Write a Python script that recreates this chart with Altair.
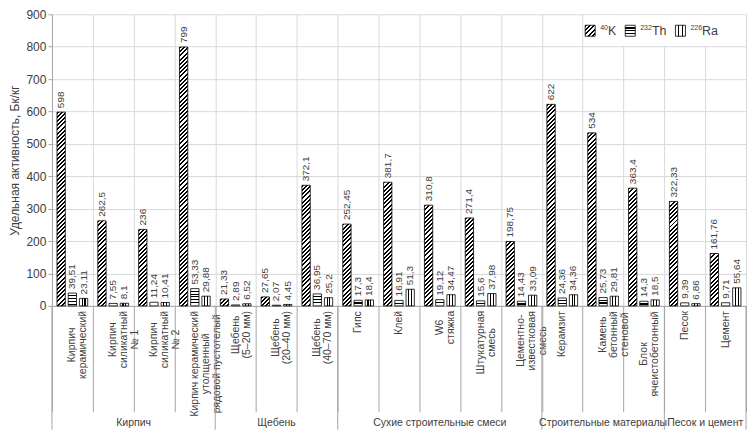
import altair as alt

# ---------------- data ----------------
categories = [
    "Кирпич керамический",
    "Кирпич силикатный № 1",
    "Кирпич силикатный № 2",
    "Кирпич керамический утолщенный рядовой пустотелый",
    "Щебень (5–20 мм)",
    "Щебень (20–40 мм)",
    "Щебень (40–70 мм)",
    "Гипс",
    "Клей",
    "W6 стяжка",
    "Штукатурная смесь",
    "Цементно-известковая смесь",
    "Керамзит",
    "Камень бетонный стеновой",
    "Блок ячеистобетонный",
    "Песок",
    "Цемент",
]
category_lines = [
    "Кирпич\nкерамический",
    "Кирпич\nсиликатный\n№ 1",
    "Кирпич\nсиликатный\n№ 2",
    "Кирпич керамический\nутолщенный\nрядовой пустотелый",
    "Щебень\n(5–20 мм)",
    "Щебень\n(20–40 мм)",
    "Щебень\n(40–70 мм)",
    "Гипс",
    "Клей",
    "W6\nстяжка",
    "Штукатурная\nсмесь",
    "Цементно-\nизвестковая\nсмесь",
    "Керамзит",
    "Камень\nбетонный\nстеновой",
    "Блок\nячеистобетонный",
    "Песок",
    "Цемент",
]
groups = ["Кирпич", "Щебень", "Сухие строительные смеси", "Строительные материалы", "Песок и цемент"]
group_sizes = [4, 3, 5, 3, 2]
series = ["K", "Th", "Ra"]
k40 = [598, 262.5, 236, 799, 21.33, 27.65, 372.1, 252.45, 381.7, 310.8, 271.4, 198.75, 622, 534, 363.4, 322.33, 161.76]
th232 = [39.51, 7.55, 11.24, 53.33, 2.89, 2.07, 36.95, 17.3, 16.91, 19.12, 15.6, 14.43, 24.36, 25.73, 14.3, 9.39, 9.71]
ra226 = [23.11, 8.1, 10.41, 29.88, 6.52, 4.45, 25.2, 18.4, 51.3, 34.47, 37.98, 33.09, 34.36, 29.81, 18.5, 6.86, 55.64]
legend_sup = ["40", "232", "226"]
legend_sym = ["K", "Th", "Ra"]
y_title = "Удельная активность, Бк/кг"
y_ticks = [0, 100, 200, 300, 400, 500, 600, 700, 800, 900]

# ---------------- layout / style ----------------
W, H = 695, 292
YMAX = 900
TICK_LEN = 106
GROUP_MID = 117
GROUP_LEN = 124
STEP = W / len(categories)
PAD_IN, PAD_OUT = 0.26, 0.45
SUB_STEP = STEP / (len(series) - PAD_IN + 2 * PAD_OUT)
BAR_W = SUB_STEP * (1 - PAD_IN)

FONT = "Liberation Sans"
INK = "#000000"
PAPER = "#ffffff"
TXT = "#404040"
GRID = "#d9d9d9"
AXC = "#a6a6a6"
CAT_FS = 10.5
LEG_FS = 12.5
SUP_FS = 7

ARIAL = {
    "а": 556, "б": 573, "в": 531, "г": 365, "д": 583, "е": 556, "ж": 669, "з": 458, "и": 559,
    "й": 559, "к": 438, "л": 583, "м": 688, "н": 552, "о": 556, "п": 542, "р": 556, "с": 500,
    "т": 458, "у": 500, "ф": 823, "х": 500, "ц": 573, "ч": 521, "ш": 802, "щ": 823, "ъ": 625,
    "ы": 719, "ь": 521, "э": 510, "ю": 750, "я": 542,
    "К": 583, "Щ": 938, "Г": 542, "W": 944, "Ш": 917, "Ц": 740, "Б": 656, "П": 719, "С": 722,
    " ": 278, "(": 333, ")": 333, "–": 556, "-": 333, "№": 1073, ",": 278,
    "K": 667, "T": 611, "h": 556, "R": 722, "a": 556,
}


def text_width(s, size):
    return sum(ARIAL.get(ch, 556) for ch in s) * size / 1000


def band_stops(length, spacing, thick, start, end=None):
    if end is None:
        end = length + thick
    out = [{"offset": 0, "color": PAPER}]
    pos = start
    while pos < end and pos - thick / 2 < length:
        a = round(max(pos - thick / 2, 0) / length, 4)
        b = round(min(pos + thick / 2, length) / length, 4)
        out += [
            {"offset": a, "color": PAPER},
            {"offset": a, "color": INK},
            {"offset": b, "color": INK},
            {"offset": b, "color": PAPER},
        ]
        pos += spacing
    out.append({"offset": 1, "color": PAPER})
    return out


def pattern(kind, w, h):
    if kind == "K":  # diagonal hatch "////"
        k = (w + h) / (w * w + h * h)
        return {"gradient": "linear", "x1": 0, "y1": 0, "x2": round(k * w, 6), "y2": round(k * h, 6),
                "stops": band_stops(w + h, 4.2, 2.0, 1.0)}
    if kind == "Th":  # horizontal lines
        return {"gradient": "linear", "x1": 0, "y1": 0, "x2": 0, "y2": 1,
                "stops": band_stops(h, 2.75, 1.1, 2.75, h - 1.0)}
    # vertical lines
    return {"gradient": "linear", "x1": 0, "y1": 0, "x2": 1, "y2": 0,
            "stops": band_stops(w, w / 3, 1.1, w / 3, w - 1.0)}


# ---------------- tables ----------------
rows = []
for i, cat in enumerate(categories):
    for s, vals in zip(series, (k40, th232, ra226)):
        v = vals[i]
        rows.append({"cat": cat, "s": s, "v": v, "grad": pattern(s, BAR_W, v / YMAX * H)})
bar_data = alt.Data(values=rows)

cat_rows = []
for cat, lines in zip(categories, category_lines):
    longest = max(text_width(l, CAT_FS) for l in lines.split("\n"))
    cat_rows.append({"cat": cat, "lines": lines, "ly": -(5 + longest / 2) / H * YMAX})

gstart_rows, glab_mid, glab_edge = [], [], []
start = 0
for g, n in zip(groups, group_sizes):
    gstart_rows.append({"cat": categories[start]})
    if n % 2:
        glab_mid.append({"cat": categories[start + n // 2], "g": g})
    else:
        glab_edge.append({"cat": categories[start + n // 2], "g": g})
    start += n

# ---------------- encodings ----------------
xaxis = alt.Axis(labels=False, ticks=True, tickSize=TICK_LEN, tickBand="extent", tickColor=AXC,
                 tickWidth=1, domainColor=AXC, grid=True, gridColor=GRID)
yaxis = alt.Axis(values=y_ticks, tickSize=4, tickColor=AXC, domainColor=AXC, grid=True, gridColor=GRID,
                 labelFontSize=12, labelColor=TXT, labelPadding=2, titleFontSize=12, titleColor=TXT,
                 titleFontWeight="normal", titlePadding=4)
xscale = alt.Scale(domain=categories, paddingInner=0, paddingOuter=0)
yscale = alt.Scale(domain=[0, YMAX], nice=False)


def X(bp=None):
    kw = {} if bp is None else {"bandPosition": bp}
    return alt.X("cat:N", scale=xscale, axis=xaxis, title=None, **kw)


def Y(field):
    return alt.Y(field, scale=yscale, axis=yaxis, title=y_title, stack=None)


XO = alt.XOffset("s:N", scale=alt.Scale(domain=series, paddingInner=PAD_IN, paddingOuter=PAD_OUT))

bars = alt.Chart(bar_data).mark_bar(stroke=INK, strokeWidth=0.8).encode(
    x=X(), xOffset=XO, y=Y("v:Q"), fill=alt.Fill("grad:N", scale=None, legend=None)
)

value_labels = alt.Chart(bar_data).transform_calculate(
    lbl="replace(toString(datum.v), '.', ',')"
).mark_text(angle=270, align="left", baseline="middle", dx=4, fontSize=10, color=TXT).encode(
    x=X(), xOffset=XO, y=Y("v:Q"), text="lbl:N"
)

cat_labels = alt.Chart(alt.Data(values=cat_rows)).mark_text(
    angle=270, align="center", baseline="middle", lineBreak="\n", lineHeight=11, fontSize=CAT_FS, color=TXT
).encode(x=X(), y=Y("ly:Q"), text="lines:N")

group_rules_start = alt.Chart(alt.Data(values=gstart_rows)).mark_rule(color=AXC, strokeWidth=1).encode(
    x=X(0), y=alt.value(H), y2=alt.value(H + GROUP_LEN)
)
group_rules_end = alt.Chart(alt.Data(values=[{"cat": categories[-1]}])).mark_rule(color=AXC, strokeWidth=1).encode(
    x=X(1), y=alt.value(H), y2=alt.value(H + GROUP_LEN)
)
group_text_mid = alt.Chart(alt.Data(values=glab_mid)).mark_text(
    align="center", baseline="middle", fontSize=10.5, color=TXT
).encode(x=X(0.5), y=alt.value(H + GROUP_MID), text="g:N")
group_text_edge = alt.Chart(alt.Data(values=glab_edge)).mark_text(
    align="center", baseline="middle", fontSize=10.5, color=TXT
).encode(x=X(0), y=alt.value(H + GROUP_MID), text="g:N")

# ---------------- legend ----------------
legend_layers = [
    alt.Chart(alt.Data(values=[{"a": 1}])).mark_rect(fill=PAPER).encode(
        x=alt.value(W - 160), x2=alt.value(W - 1), y=alt.value(1), y2=alt.value(H / 9 - 1)
    )
]
cursor = W - 28
for i in reversed(range(len(series))):
    main_x = cursor - text_width(legend_sym[i], LEG_FS)
    sup_x = main_x - text_width(legend_sup[i], SUP_FS)
    box_x = sup_x - 5 - 10
    cursor = box_x - 9
    legend_layers.append(
        alt.Chart(alt.Data(values=[{"a": 1}])).mark_rect(
            fill=pattern(series[i], 10, 11), stroke=INK, strokeWidth=0.8
        ).encode(x=alt.value(box_x), x2=alt.value(box_x + 10), y=alt.value(11), y2=alt.value(22))
    )
    legend_layers.append(
        alt.Chart(alt.Data(values=[{"t": legend_sup[i]}])).mark_text(
            align="left", baseline="middle", fontSize=SUP_FS, color=TXT
        ).encode(x=alt.value(sup_x), y=alt.value(13.5), text="t:N")
    )
    legend_layers.append(
        alt.Chart(alt.Data(values=[{"t": legend_sym[i]}])).mark_text(
            align="left", baseline="middle", fontSize=LEG_FS, color=TXT
        ).encode(x=alt.value(main_x), y=alt.value(17), text="t:N")
    )

chart = alt.layer(
    bars, value_labels, cat_labels, group_rules_start, group_rules_end,
    group_text_mid, group_text_edge, *legend_layers
).properties(width=W, height=H, padding=0, background="white").configure(font=FONT).configure_view(stroke=None)

chart.save("out.html", embed_options={"renderer": "svg", "actions": False})
